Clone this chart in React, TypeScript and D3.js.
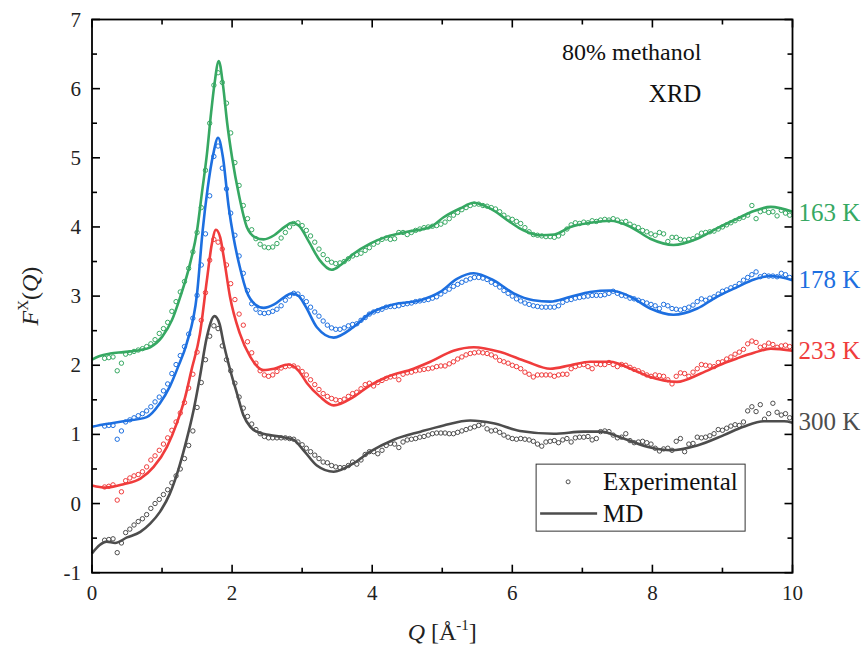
import * as d3 from "d3"

// experimental grid: Q = 0.18 + 0.06 * i
const expQStart = 0.18
const expQStep = 0.06

const exp163 = [
  2.10, 2.11, 2.12, 1.92, 2.03, 2.16, 2.18, 2.20, 2.22, 2.24,
  2.27, 2.31, 2.37, 2.46, 2.53, 2.62, 2.78, 2.92, 3.06, 3.21,
  3.40, 3.64, 3.92, 4.28, 4.82, 5.50, 6.05, 6.23, 6.09, 5.79,
  5.36, 4.93, 4.60, 4.31, 4.12, 3.96, 3.83, 3.75, 3.71, 3.70,
  3.71, 3.76, 3.84, 3.92, 4.00, 4.05, 4.06, 4.02, 3.95, 3.87,
  3.78, 3.68, 3.60, 3.53, 3.49, 3.47, 3.48, 3.50, 3.54, 3.58,
  3.60, 3.62, 3.66, 3.70, 3.75, 3.78, 3.82, 3.84, 3.82, 3.83,
  3.92, 3.92, 3.89, 3.92, 3.95, 3.97, 3.99, 4.00, 4.01, 4.02,
  4.04, 4.07, 4.12, 4.17, 4.21, 4.25, 4.28, 4.31, 4.33, 4.33,
  4.31, 4.30, 4.28, 4.26, 4.22, 4.17, 4.13, 4.11, 4.08, 4.05,
  3.99, 3.93, 3.89, 3.88, 3.87, 3.86, 3.86, 3.85, 3.87, 3.91,
  3.97, 4.03, 4.06, 4.05, 4.07, 4.06, 4.09, 4.08, 4.10, 4.11,
  4.10, 4.12, 4.10, 4.07, 4.08, 4.04, 4.01, 3.99, 3.95, 3.93,
  3.90, 3.88, 3.92, 3.90, 3.79, 3.85, 3.85, 3.82, 3.81, 3.82,
  3.83, 3.87, 3.91, 3.92, 3.93, 3.94, 3.97, 4.00, 4.03, 4.06,
  4.09, 4.12, 4.14, 4.17, 4.31, 4.12, 4.22, 4.24, 4.21, 4.22,
  4.16, 4.24, 4.20, 4.17,
]

const exp178 = [
  1.12, 1.13, 1.13, 0.93, 1.05, 1.18, 1.21, 1.24, 1.27, 1.30,
  1.34, 1.40, 1.47, 1.54, 1.63, 1.73, 1.88, 2.01, 2.14, 2.27,
  2.45, 2.68, 3.01, 3.45, 3.90, 4.45, 5.02, 5.17, 4.85, 4.55,
  4.20, 3.88, 3.58, 3.33, 3.08, 2.89, 2.81, 2.76, 2.75, 2.76,
  2.78, 2.81, 2.86, 2.94, 3.00, 3.04, 3.03, 2.98, 2.92, 2.84,
  2.77, 2.71, 2.64, 2.58, 2.54, 2.52, 2.52, 2.54, 2.57, 2.59,
  2.60, 2.65, 2.69, 2.74, 2.77, 2.79, 2.81, 2.84, 2.85, 2.85,
  2.86, 2.88, 2.89, 2.90, 2.92, 2.93, 2.94, 2.95, 2.97, 2.99,
  3.03, 3.07, 3.10, 3.14, 3.17, 3.20, 3.23, 3.25, 3.27, 3.27,
  3.26, 3.24, 3.20, 3.17, 3.13, 3.08, 3.04, 3.00, 2.96, 2.93,
  2.90, 2.88, 2.86, 2.85, 2.84, 2.84, 2.84, 2.84, 2.86, 2.91,
  2.94, 2.95, 2.97, 2.98, 2.99, 3.00, 3.01, 3.01, 3.01, 3.02,
  3.04, 3.07, 3.04, 3.01, 3.00, 2.97, 2.96, 2.94, 2.92, 2.90,
  2.88, 2.86, 2.82, 2.88, 2.86, 2.82, 2.81, 2.80, 2.82, 2.84,
  2.87, 2.92, 2.96, 2.94, 2.97, 2.99, 3.03, 3.07, 3.09, 3.12,
  3.14, 3.18, 3.23, 3.27, 3.31, 3.35, 3.28, 3.30, 3.29, 3.29,
  3.28, 3.33, 3.31, 3.27,
]

const exp233 = [
  0.24, 0.25, 0.27, 0.05, 0.17, 0.33, 0.37, 0.40, 0.42, 0.46,
  0.53, 0.63, 0.69, 0.77, 0.86, 0.95, 1.06, 1.18, 1.31, 1.46,
  1.67, 1.87, 2.19, 2.65, 3.05, 3.52, 3.82, 3.78, 3.68, 3.45,
  3.18, 2.95, 2.74, 2.58, 2.34, 2.18, 2.03, 1.92, 1.86, 1.84,
  1.86, 1.91, 1.96, 1.98, 1.99, 1.99, 1.96, 1.91, 1.86, 1.79,
  1.72, 1.65, 1.59, 1.55, 1.52, 1.50, 1.49, 1.51, 1.55, 1.59,
  1.61, 1.66, 1.72, 1.74, 1.70, 1.75, 1.78, 1.81, 1.83, 1.84,
  1.79, 1.87, 1.89, 1.90, 1.92, 1.93, 1.94, 1.95, 1.96, 1.98,
  1.99, 1.99, 2.02, 2.05, 2.09, 2.12, 2.15, 2.17, 2.18, 2.19,
  2.18, 2.17, 2.15, 2.12, 2.07, 2.05, 2.03, 2.00, 1.98, 1.95,
  1.90, 1.87, 1.83, 1.86, 1.86, 1.86, 1.86, 1.84, 1.86, 1.87,
  1.87, 1.95, 1.98, 2.00, 2.01, 1.98, 1.95, 2.02, 2.01, 2.01,
  2.04, 2.01, 1.98, 2.01, 2.00, 1.97, 1.94, 1.92, 1.89, 1.86,
  1.84, 1.86, 1.85, 1.84, 1.79, 1.73, 1.84, 1.89, 1.88, 1.84,
  1.90, 1.95, 2.01, 2.00, 1.99, 1.98, 2.04, 2.05, 2.09, 2.12,
  2.16, 2.19, 2.23, 2.31, 2.35, 2.33, 2.26, 2.28, 2.32, 2.30,
  2.26, 2.28, 2.29, 2.27,
]

const exp300 = [
  -0.53, -0.52, -0.51, -0.71, -0.57, -0.42, -0.37, -0.31, -0.26, -0.22,
  -0.16, -0.07, 0.00, 0.06, 0.13, 0.20, 0.30, 0.40, 0.50, 0.65,
  0.84, 1.05, 1.39, 1.75, 2.08, 2.42, 2.57, 2.53, 2.28, 2.08,
  1.92, 1.74, 1.54, 1.38, 1.26, 1.15, 1.07, 1.01, 0.97, 0.95,
  0.95, 0.95, 0.95, 0.95, 0.94, 0.93, 0.89, 0.85, 0.80, 0.75,
  0.70, 0.65, 0.60, 0.59, 0.55, 0.53, 0.52, 0.52, 0.55, 0.60,
  0.57, 0.63, 0.71, 0.75, 0.75, 0.72, 0.77, 0.84, 0.87, 0.86,
  0.81, 0.89, 0.92, 0.93, 0.94, 0.96, 0.97, 0.99, 1.01, 1.02,
  1.02, 1.02, 1.01, 1.01, 1.03, 1.05, 1.07, 1.09, 1.11, 1.13,
  1.15, 1.08, 1.05, 1.06, 1.03, 0.99, 0.96, 0.94, 0.93, 0.94,
  0.93, 0.92, 0.90, 0.86, 0.83, 0.89, 0.90, 0.91, 0.88, 0.92,
  0.94, 0.89, 0.95, 0.96, 0.96, 0.97, 0.92, 0.94, 1.04, 1.05,
  1.04, 0.99, 0.95, 0.96, 1.01, 0.91, 0.88, 0.89, 0.90, 0.88,
  0.86, 0.80, 0.76, 0.79, 0.80, 0.77, 0.90, 0.94, 0.75, 0.86,
  0.87, 0.96, 0.95, 0.96, 0.98, 1.01, 1.07, 1.06, 1.09, 1.12,
  1.14, 1.13, 1.18, 1.34, 1.40, 1.33, 1.43, 1.22, 1.30, 1.45,
  1.32, 1.28, 1.30, 1.24,
]

// MD curves, [Q, F]
const md163: [number, number][] = [
  [0, 2.08], [0.1, 2.13], [0.26, 2.17], [0.45, 2.19], [0.69, 2.22], [0.83, 2.26],
  [1.0, 2.41], [1.14, 2.65], [1.26, 2.99], [1.4, 3.47], [1.5, 3.95], [1.57, 4.5],
  [1.64, 5.05], [1.7, 5.65], [1.75, 6.08], [1.81, 6.4], [1.87, 6.05], [1.93, 5.5],
  [2.0, 5.0], [2.1, 4.45], [2.21, 4.0], [2.33, 3.85], [2.45, 3.82], [2.6, 3.88],
  [2.75, 4.0], [2.85, 4.06], [2.95, 4.02], [3.1, 3.78], [3.25, 3.52], [3.42, 3.38],
  [3.55, 3.45], [3.73, 3.61], [3.97, 3.76], [4.21, 3.86], [4.5, 3.93], [4.83, 4.0],
  [5.02, 4.14], [5.26, 4.27], [5.45, 4.35], [5.73, 4.24], [5.97, 4.07], [6.16, 3.95],
  [6.4, 3.88], [6.6, 3.89], [6.83, 4.0], [7.11, 4.06], [7.4, 4.09], [7.69, 4.0],
  [7.97, 3.83], [8.3, 3.74], [8.64, 3.83], [8.92, 3.98], [9.21, 4.12], [9.45, 4.23],
  [9.69, 4.29], [10, 4.22],
]

const md178: [number, number][] = [
  [0, 1.11], [0.2, 1.15], [0.45, 1.19], [0.78, 1.25], [0.97, 1.45], [1.11, 1.69],
  [1.23, 1.98], [1.35, 2.31], [1.5, 3.04], [1.58, 3.95], [1.65, 4.55], [1.73, 5.05],
  [1.8, 5.29], [1.87, 5.0], [1.95, 4.3], [2.02, 3.85], [2.11, 3.42], [2.21, 3.06],
  [2.33, 2.88], [2.45, 2.83], [2.6, 2.88], [2.75, 2.99], [2.85, 3.04], [2.95, 3.0],
  [3.05, 2.85], [3.21, 2.55], [3.45, 2.4], [3.73, 2.55], [3.97, 2.75], [4.3, 2.88],
  [4.69, 2.94], [4.97, 3.06], [5.21, 3.25], [5.45, 3.33], [5.73, 3.23], [6.02, 3.04],
  [6.3, 2.94], [6.54, 2.92], [6.83, 2.99], [7.11, 3.06], [7.4, 3.08], [7.69, 2.99],
  [7.97, 2.82], [8.3, 2.73], [8.64, 2.82], [8.92, 2.99], [9.21, 3.13], [9.45, 3.24],
  [9.69, 3.29], [10, 3.23],
]

const md233: [number, number][] = [
  [0, 0.26], [0.19, 0.23], [0.45, 0.28], [0.69, 0.36], [0.88, 0.53], [1.07, 0.82],
  [1.21, 1.16], [1.33, 1.54], [1.42, 1.93], [1.54, 2.45], [1.64, 3.23], [1.71, 3.75],
  [1.77, 3.96], [1.83, 3.85], [1.88, 3.57], [1.97, 2.99], [2.11, 2.46], [2.26, 2.12],
  [2.45, 1.93], [2.6, 1.95], [2.8, 2.01], [2.95, 1.92], [3.07, 1.74], [3.25, 1.55],
  [3.45, 1.42], [3.73, 1.54], [3.97, 1.71], [4.21, 1.83], [4.59, 1.95], [4.83, 2.05],
  [5.16, 2.21], [5.45, 2.26], [5.83, 2.19], [6.21, 2.05], [6.54, 1.95], [6.83, 2.0],
  [7.11, 2.05], [7.4, 2.05], [7.69, 1.95], [7.97, 1.83], [8.35, 1.76], [8.69, 1.88],
  [9.02, 2.03], [9.21, 2.1], [9.45, 2.18], [9.69, 2.24], [10, 2.21],
]

const md300: [number, number][] = [
  [0, -0.72], [0.11, -0.6], [0.21, -0.55], [0.33, -0.57], [0.5, -0.49], [0.69, -0.41],
  [0.83, -0.29], [0.97, -0.12], [1.11, 0.14], [1.23, 0.48], [1.35, 0.92], [1.45, 1.35],
  [1.54, 1.83], [1.64, 2.41], [1.75, 2.71], [1.82, 2.6], [1.88, 2.31], [2.0, 1.83],
  [2.07, 1.59], [2.16, 1.28], [2.26, 1.11], [2.35, 1.04], [2.54, 0.99], [2.73, 0.96],
  [2.88, 0.92], [3.02, 0.77], [3.21, 0.55], [3.45, 0.46], [3.73, 0.58], [3.97, 0.75],
  [4.3, 0.92], [4.69, 1.04], [5.02, 1.13], [5.4, 1.2], [5.73, 1.16], [6.11, 1.05],
  [6.59, 1.01], [7.02, 1.04], [7.26, 1.04], [7.59, 0.94], [7.97, 0.81], [8.26, 0.77],
  [8.64, 0.84], [9.02, 0.99], [9.3, 1.11], [9.59, 1.19], [9.88, 1.19], [10, 1.17],
]

const seriesLabels = ["163 K", "178 K", "233 K", "300 K"]
const seriesColors = ["#36a862", "#1d6fe0", "#f03c3c", "#4d4d4d"]
const expSeries = [exp163, exp178, exp233, exp300]
const mdSeries = [md163, md178, md233, md300]
const labelAnchorF = [4.2, 3.23, 2.2, 1.18]

const xTicks = [0, 2, 4, 6, 8, 10]
const yTicks = [-1, 0, 1, 2, 3, 4, 5, 6, 7]

const W = 864
const H = 647
const margin = { left: 92, right: 71.5, top: 19.5, bottom: 74.3 }
const FONT = "Liberation Serif, Times New Roman, Times, serif"

export default function App() {
  const innerW = W - margin.left - margin.right
  const innerH = H - margin.top - margin.bottom
  const x = d3.scaleLinear().domain([0, 10]).range([0, innerW])
  const y = d3.scaleLinear().domain([-1, 7]).range([innerH, 0])

  const line = d3
    .line<[number, number]>()
    .x(d => x(d[0]))
    .y(d => y(d[1]))
    .curve(d3.curveMonotoneX)

  const xMinor = d3.range(1, 10, 2)
  const yMinor = d3.range(-0.5, 7, 1)
  const major = 8
  const minor = 5

  return (
    <svg
      width={W}
      height={H}
      style={{ position: "absolute", left: 0, top: 0, background: "#fff", fontFamily: FONT }}
    >
      <g transform={`translate(${margin.left},${margin.top})`}>
        {mdSeries.map((s, k) => (
          <path key={"md" + k} d={line(s) ?? ""} fill="none" stroke={seriesColors[k]} strokeWidth={2.6} strokeLinejoin="round" />
        ))}
        {expSeries.map((vals, k) => (
          <g key={"exp" + k} fill="none" stroke={seriesColors[k]} strokeWidth={1}>
            {vals.map((v, i) => (
              <circle key={i} cx={x(expQStart + i * expQStep)} cy={y(v)} r={2.2} />
            ))}
          </g>
        ))}

        {/* frame */}
        <rect x={0} y={0} width={innerW} height={innerH} fill="none" stroke="#000" strokeWidth={1.8} />

        {/* x ticks bottom + top */}
        {xTicks.map(t => (
          <g key={"xt" + t}>
            <line x1={x(t)} x2={x(t)} y1={innerH} y2={innerH - major} stroke="#000" strokeWidth={1.6} />
            <line x1={x(t)} x2={x(t)} y1={0} y2={major} stroke="#000" strokeWidth={1.6} />
            <text x={x(t)} y={innerH + 27} textAnchor="middle" fontSize={21} fill="#222">
              {t}
            </text>
          </g>
        ))}
        {xMinor.map(t => (
          <g key={"xm" + t}>
            <line x1={x(t)} x2={x(t)} y1={innerH} y2={innerH - minor} stroke="#000" strokeWidth={1.6} />
            <line x1={x(t)} x2={x(t)} y1={0} y2={minor} stroke="#000" strokeWidth={1.6} />
          </g>
        ))}

        {/* y ticks left + right */}
        {yTicks.map(t => (
          <g key={"yt" + t}>
            <line x1={0} x2={major} y1={y(t)} y2={y(t)} stroke="#000" strokeWidth={1.6} />
            <line x1={innerW} x2={innerW - major} y1={y(t)} y2={y(t)} stroke="#000" strokeWidth={1.6} />
            <text x={-11} y={y(t) + 7} textAnchor="end" fontSize={21} fill="#222">
              {t}
            </text>
          </g>
        ))}
        {yMinor.map(t => (
          <g key={"ym" + t}>
            <line x1={0} x2={minor} y1={y(t)} y2={y(t)} stroke="#000" strokeWidth={1.6} />
            <line x1={innerW} x2={innerW - minor} y1={y(t)} y2={y(t)} stroke="#000" strokeWidth={1.6} />
          </g>
        ))}

        {/* series labels on the right */}
        {seriesLabels.map((lab, k) => (
          <text key={lab} x={innerW + 6} y={y(labelAnchorF[k]) + 8} fontSize={25} fill={seriesColors[k]}>
            {lab}
          </text>
        ))}

        {/* annotations */}
        <text x={x(8.7)} y={y(6.41)} textAnchor="end" fontSize={24} fill="#111">
          80%{"\u00a0"}methanol
        </text>
        <text x={x(8.7)} y={y(5.8)} textAnchor="end" fontSize={25} fill="#111">
          XRD
        </text>

        {/* legend */}
        <g transform={`translate(${x(6.34)},${y(0.57)})`}>
          <rect x={0} y={0} width={209} height={67} fill="#fff" stroke="#333" strokeWidth={1} />
          <circle cx={32} cy={17.7} r={2} fill="none" stroke="#4d4d4d" strokeWidth={1} />
          <text x={67} y={26} fontSize={25} fill="#111">
            Experimental
          </text>
          <line x1={4} x2={61} y1={49.3} y2={49.3} stroke="#4d4d4d" strokeWidth={2.6} />
          <text x={67} y={58} fontSize={25} fill="#111">
            MD
          </text>
        </g>

        {/* axis titles */}
        <text x={innerW / 2} y={innerH + 67} textAnchor="middle" fontSize={24} fill="#222">
          <tspan fontStyle="italic">Q</tspan>
          <tspan> [Å</tspan>
          <tspan fontSize={15} dy={-10}>-1</tspan>
          <tspan dy={10}>]</tspan>
        </text>
        <text
          transform={`translate(${-54},${innerH / 2}) rotate(-90)`}
          textAnchor="middle"
          fontSize={24}
          fill="#222"
        >
          <tspan fontStyle="italic">F</tspan>
          <tspan fontSize={15} dy={-10}>X</tspan>
          <tspan dy={10}>(</tspan>
          <tspan fontStyle="italic">Q</tspan>
          <tspan>)</tspan>
        </text>
      </g>
    </svg>
  )
}
